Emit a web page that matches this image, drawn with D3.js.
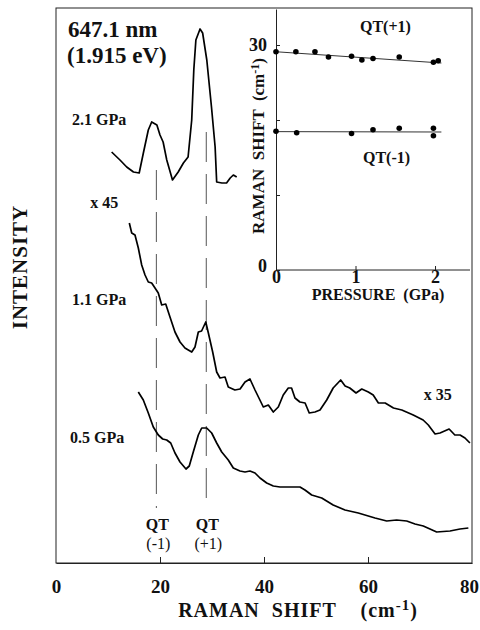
<!DOCTYPE html>
<html>
<head>
<meta charset="utf-8">
<script src="https://d3js.org/d3.v7.min.js"></script>
<style>
  body { margin: 0; background: #fff; }
  text { font-family: "Liberation Serif", "Times New Roman", serif; font-weight: bold; fill: #111; }
</style>
</head>
<body>
<div id="graph"></div>
<script>

// spectra: [raman shift (cm-1), intensity (arb. units)]
const spec21 = [[10.7,411],[12.3,403],[13.6,396],[14.9,391],[16.0,390],[16.8,410],[17.75,433],[18.4,441],[19.4,438],[20.0,428],[20.6,421],[21.3,403],[22.4,383],[23.5,391],[24.5,400],[25.4,406],[26.1,443],[26.5,493],[26.9,523],[27.7,534],[28.2,530],[29.0,503],[29.9,456],[30.6,416],[30.9,381],[31.9,380],[32.8,380],[33.5,385],[34.1,388],[34.75,386]]

const spec11 = [[14.1,340],[14.56,330],[15.19,328],[15.83,315],[16.48,298],[17.12,288],[17.75,281],[18.4,280],[19.04,275],[19.67,270],[20.33,258],[21.1,259],[21.92,246],[22.88,231],[23.85,221],[24.8,215],[25.44,213],[26.1,211],[26.73,216],[27.37,231],[28.0,232],[28.8,241],[29.3,230],[30.13,211],[30.9,191],[31.54,185],[32.5,186],[33.13,176],[34.4,173],[35.4,174],[36.35,181],[37.3,184],[38.27,173],[39.87,156],[40.83,158],[41.79,151],[42.75,156],[43.7,168],[44.67,175],[45.3,175],[45.96,165],[46.9,161],[47.9,160],[48.7,150],[49.8,151],[50.77,153],[52.06,163],[53.3,175],[54.75,183],[55.6,177],[56.5,175],[57.7,170],[58.8,174],[60.06,171],[61.0,168],[62.0,160],[63.3,160],[64.9,155],[66.5,153],[68.7,148],[70.6,143],[71.6,138],[72.9,129],[73.85,130],[75.6,134],[76.7,128],[77.7,128],[78.65,125],[79.6,120]]

const spec05 = [[15.83,171],[16.79,163],[17.75,150],[18.71,136],[19.67,128],[20.52,124],[21.29,123],[22.06,120],[22.88,110],[23.85,101],[25.0,94],[25.63,97],[26.4,111],[27.37,128],[28.02,135],[28.98,135],[29.94,130],[30.9,120],[31.87,111],[33.13,103],[34.1,95],[35.38,92],[36.35,91],[37.3,92],[38.27,90],[39.23,85],[40.52,80],[41.79,77],[43.08,76],[45.0,76],[46.92,76],[47.88,73],[49.17,68],[51.1,65],[53.3,58],[55.58,53],[58.13,50],[61.35,45],[63.6,42],[65.5,43],[67.44,42],[69.04,39],[70.63,37],[71.92,34],[73.2,31],[75.77,32],[77.7,34],[79.3,35]]

// spectrum labels: [text, x, y]
const specLabels = [["2.1 GPa",3.1,438],["x 45",6.6,355],["1.1 GPa",3.1,258],["0.5 GPa",2.7,120],["x 35",70.7,163]]

// QT mode positions (cm-1) and the top of each dashed marker
const qtShift = [19.3, 28.9]
const qtTop = [393, 431]
const qtBottom = 55
const qtNames = ["(-1)", "(+1)"]

const xTicks = [0, 20, 40, 60, 80]

// inset: pressure (GPa) vs raman shift (cm-1)
const qtPlus = [[0,29.1],[0.25,29.1],[0.49,29.1],[0.66,28.4],[0.95,28.5],[1.08,28.0],[1.22,28.2],[1.55,28.4],[1.98,27.7],[2.04,27.9]]
const qtMinus = [[0,18.5],[0.26,18.3],[0.95,18.2],[1.22,18.7],[1.55,18.9],[1.98,18.9],[1.98,17.9]]
const fitPlus = [[0,29.1],[2.08,27.6]]
const fitMinus = [[0,18.45],[2.08,18.4]]
const insetXTicks = [0, 1, 2]
const insetYTicks = [0, 10, 20, 30]

const svg = d3.select("#graph").append("svg")
    .attr("width", 480)
    .attr("height", 630)

const x = d3.scaleLinear().domain([0, 80]).range([56, 472])
const y = d3.scaleLinear().domain([0, 555]).range([563, 8])

// frame
svg.append("rect")
    .attr("x", x(0)).attr("y", y(555))
    .attr("width", x(80) - x(0)).attr("height", y(0) - y(555))
    .attr("fill", "none").attr("stroke", "#222").attr("stroke-width", 1)

const xAxis = svg.append("g")
    .attr("transform", `translate(0, ${y(0)})`)
    .call(d3.axisBottom(x).tickValues(xTicks).tickSizeInner(-6).tickSizeOuter(0).tickPadding(17))
xAxis.select(".domain").attr("stroke", "#222")
xAxis.selectAll(".tick line").attr("stroke", "#222")
xAxis.selectAll("text").style("font-size", "19px").attr("fill", "#111")
xAxis.selectAll(".tick").filter(d => d === 0 || d === 80).select("line").remove()
xAxis.selectAll(".tick").filter(d => d === 80).select("text").attr("dx", "-3")

// x title with superscript
const xt = svg.append("text")
    .attr("x", 298).attr("y", 617)
    .attr("text-anchor", "middle")
    .style("font-size", "20px")
    .style("letter-spacing", "1px")
    .style("white-space", "pre")
xt.append("tspan").text("RAMAN  SHIFT    (cm")
xt.append("tspan").attr("dy", -7).style("font-size", "15px").text("-1")
xt.append("tspan").attr("dy", 7).text(")")

svg.append("text")
    .attr("transform", "translate(27, 267) rotate(-90)")
    .attr("text-anchor", "middle")
    .style("font-size", "21px")
    .style("letter-spacing", "1px")
    .text("INTENSITY")

// dashed QT markers
svg.selectAll(".qt")
    .data(qtShift)
    .enter()
    .append("line")
    .attr("x1", d => x(d)).attr("x2", d => x(d))
    .attr("y1", (d, i) => y(qtTop[i])).attr("y2", y(qtBottom))
    .attr("stroke", "#555").attr("stroke-width", 1)
    .attr("stroke-dasharray", "30,12")

svg.selectAll(".qtName")
    .data(qtShift)
    .enter()
    .append("text")
    .attr("x", d => x(d) + 1).attr("y", 530)
    .attr("text-anchor", "middle")
    .style("font-size", "16px")
    .text("QT")

svg.selectAll(".qtSub")
    .data(qtShift)
    .enter()
    .append("text")
    .attr("x", d => x(d) + 2).attr("y", 549)
    .attr("text-anchor", "middle")
    .style("font-size", "16px")
    .style("font-weight", "normal")
    .text((d, i) => qtNames[i])

// spectra
const line = d3.line().x(d => x(d[0])).y(d => y(d[1]))
;[spec21, spec11, spec05].forEach(s => {
    svg.append("path")
        .attr("d", line(s))
        .attr("fill", "none")
        .attr("stroke", "#000")
        .attr("stroke-width", 1.7)
        .attr("stroke-linejoin", "round")
})

svg.selectAll(".specLabel")
    .data(specLabels)
    .enter()
    .append("text")
    .attr("x", d => x(d[1])).attr("y", d => y(d[2]))
    .style("font-size", "16px")
    .text(d => d[0])

svg.append("text").attr("x", 68).attr("y", 37).style("font-size", "23px").text("647.1 nm")
svg.append("text").attr("x", 67).attr("y", 63).style("font-size", "23px").text("(1.915 eV)")

// inset
const ix = d3.scaleLinear().domain([0, 2.44]).range([276, 470])
const iy = d3.scaleLinear().domain([0, 34.8]).range([270, 9])

const ixAxis = svg.append("g")
    .attr("transform", `translate(0, ${iy(0)})`)
    .call(d3.axisBottom(ix).tickValues(insetXTicks).tickSizeInner(-4).tickSizeOuter(0).tickPadding(0)
        .tickFormat(d3.format("d")))
const iyAxis = svg.append("g")
    .attr("transform", `translate(${ix(0)}, 0)`)
    .call(d3.axisLeft(iy).tickValues(insetYTicks).tickSizeInner(-4).tickSizeOuter(0).tickPadding(9)
        .tickFormat(d => (d === 0 || d === 30) ? d : ""))
;[ixAxis, iyAxis].forEach(a => {
    a.select(".domain").attr("stroke", "#222")
    a.selectAll(".tick line").attr("stroke", "#222")
    a.selectAll("text").style("font-size", "18px").attr("fill", "#111")
})
ixAxis.select(".domain").attr("d", `M${ix(0)},0H${ix(2.44)}`)
iyAxis.selectAll(".tick").filter(d => d === 0).select("text").attr("dy", "0.1em")

svg.append("text")
    .attr("x", 378).attr("y", 300)
    .attr("text-anchor", "middle")
    .style("font-size", "16px")
    .style("white-space", "pre")
    .text("PRESSURE  (GPa)")

const iyt = svg.append("text")
    .attr("transform", "translate(264, 146) rotate(-90)")
    .attr("text-anchor", "middle")
    .style("font-size", "17px")
    .style("white-space", "pre")
iyt.append("tspan").text("RAMAN  SHIFT  (cm")
iyt.append("tspan").attr("dy", -5).style("font-size", "12px").text("-1")
iyt.append("tspan").attr("dy", 5).text(")")

const iline = d3.line().x(d => ix(d[0])).y(d => iy(d[1]))
;[fitPlus, fitMinus].forEach(f => {
    svg.append("path")
        .attr("d", iline(f))
        .attr("fill", "none")
        .attr("stroke", "#333")
        .attr("stroke-width", 1)
})

svg.selectAll(".pt")
    .data(qtPlus.concat(qtMinus))
    .enter()
    .append("circle")
    .attr("cx", d => ix(d[0])).attr("cy", d => iy(d[1]))
    .attr("r", 2.8)
    .attr("fill", "#000")

svg.append("text").attr("x", 360).attr("y", 32).style("font-size", "16px").text("QT(+1)")
svg.append("text").attr("x", 363).attr("y", 163).style("font-size", "16px").text("QT(-1)")

</script>
</body>
</html>
